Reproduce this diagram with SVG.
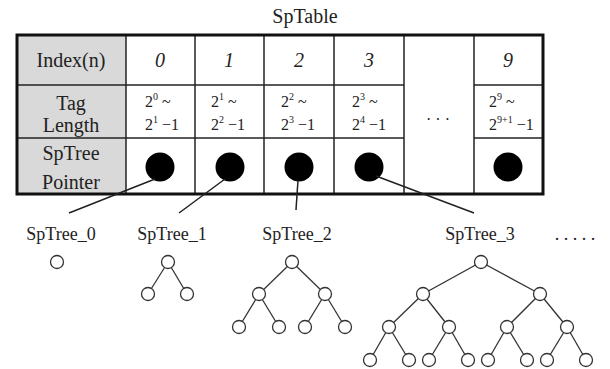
<svg xmlns="http://www.w3.org/2000/svg" width="610" height="369" viewBox="0 0 610 369" font-family="'Liberation Serif', 'Times New Roman', Times, serif">
<style>
text{font-family:'Liberation Serif','Times New Roman',Times,serif;fill:#222;}
.lbl{font-size:20px;text-anchor:middle;}
.idx{font-size:20px;font-style:italic;text-anchor:middle;}
.tag{font-size:16px;}
.sup{font-size:10px;}
.grid{stroke:#222;stroke-width:1.5;fill:none;}
.ptr{fill:#000;}
.conn{stroke:#222;stroke-width:1.5;fill:none;}
.edge{stroke:#333;stroke-width:1.3;}
.nd{fill:#fff;stroke:#333;stroke-width:1.3;}
</style>
<g id="title"><text class="lbl" x="305" y="23">SpTable</text></g>
<g id="table">
<rect x="17" y="35" width="109" height="159" fill="#d9d9d9"/>
<line class="grid" x1="17" y1="85" x2="404" y2="85"/>
<line class="grid" x1="17" y1="138" x2="404" y2="138"/>
<line class="grid" x1="474" y1="85" x2="543" y2="85"/>
<line class="grid" x1="474" y1="138" x2="543" y2="138"/>
<line class="grid" x1="126" y1="35" x2="126" y2="194"/>
<line class="grid" x1="195" y1="35" x2="195" y2="194"/>
<line class="grid" x1="264" y1="35" x2="264" y2="194"/>
<line class="grid" x1="334" y1="35" x2="334" y2="194"/>
<line class="grid" x1="404" y1="35" x2="404" y2="194"/>
<line class="grid" x1="474" y1="35" x2="474" y2="194"/>
<rect x="17" y="35" width="526" height="159" fill="none" stroke="#111" stroke-width="3"/>
<text class="lbl" x="71" y="67">Index(n)</text>
<text class="lbl" x="71" y="110">Tag</text>
<text class="lbl" x="71" y="132">Length</text>
<text class="lbl" x="71" y="160">SpTree</text>
<text class="lbl" x="71" y="189">Pointer</text>
<text class="idx" x="160" y="67">0</text>
<text class="idx" x="229" y="67">1</text>
<text class="idx" x="299" y="67">2</text>
<text class="idx" x="369" y="67">3</text>
<text class="idx" x="508" y="67">9</text>
<text class="tag" x="145" y="107">2<tspan class="sup" dy="-7">0</tspan><tspan dy="7"> ~</tspan></text>
<text class="tag" x="145" y="130">2<tspan class="sup" dy="-7">1</tspan><tspan dy="7"> −1</tspan></text>
<text class="tag" x="211" y="107">2<tspan class="sup" dy="-7">1</tspan><tspan dy="7"> ~</tspan></text>
<text class="tag" x="211" y="130">2<tspan class="sup" dy="-7">2</tspan><tspan dy="7"> −1</tspan></text>
<text class="tag" x="281" y="107">2<tspan class="sup" dy="-7">2</tspan><tspan dy="7"> ~</tspan></text>
<text class="tag" x="281" y="130">2<tspan class="sup" dy="-7">3</tspan><tspan dy="7"> −1</tspan></text>
<text class="tag" x="352" y="107">2<tspan class="sup" dy="-7">3</tspan><tspan dy="7"> ~</tspan></text>
<text class="tag" x="352" y="130">2<tspan class="sup" dy="-7">4</tspan><tspan dy="7"> −1</tspan></text>
<text class="tag" x="489" y="107">2<tspan class="sup" dy="-7">9</tspan><tspan dy="7"> ~</tspan></text>
<text class="tag" x="489" y="130">2<tspan class="sup" dy="-7">9+1</tspan><tspan dy="7"> −1</tspan></text>
<text x="438" y="125" font-size="16" text-anchor="middle">· · ·</text>
</g>
<g id="pointers">
<circle class="ptr" cx="160" cy="167" r="14.5"/>
<circle class="ptr" cx="230" cy="167" r="14.5"/>
<circle class="ptr" cx="299" cy="167" r="14.5"/>
<circle class="ptr" cx="369" cy="167" r="14.5"/>
<circle class="ptr" cx="508" cy="167" r="14.5"/>
</g>
<g id="connectors">
<line class="conn" x1="155" y1="179" x2="69" y2="213"/>
<line class="conn" x1="225" y1="179" x2="179" y2="213"/>
<line class="conn" x1="298" y1="180" x2="296" y2="210"/>
<line class="conn" x1="376" y1="176" x2="474" y2="213"/>
</g>
<g id="labels">
<text x="61" y="240" font-size="18" text-anchor="middle">SpTree_0</text>
<text x="172" y="240" font-size="18" text-anchor="middle">SpTree_1</text>
<text x="297" y="240" font-size="18" text-anchor="middle">SpTree_2</text>
<text x="480" y="240" font-size="18" text-anchor="middle">SpTree_3</text>
<text x="575" y="240" font-size="18" text-anchor="middle">. . . . .</text>
</g>
<g id="tree0">
<circle class="nd" cx="57" cy="262" r="6.5"/>
</g>
<g id="tree1">
<line class="edge" x1="168" y1="262" x2="148" y2="294"/>
<line class="edge" x1="168" y1="262" x2="187" y2="294"/>
<circle class="nd" cx="168" cy="262" r="6.5"/>
<circle class="nd" cx="148" cy="294" r="6.5"/>
<circle class="nd" cx="187" cy="294" r="6.5"/>
</g>
<g id="tree2">
<line class="edge" x1="292" y1="262" x2="259" y2="294"/>
<line class="edge" x1="292" y1="262" x2="325" y2="294"/>
<line class="edge" x1="259" y1="294" x2="239" y2="327"/>
<line class="edge" x1="259" y1="294" x2="279" y2="327"/>
<line class="edge" x1="325" y1="294" x2="305" y2="327"/>
<line class="edge" x1="325" y1="294" x2="345" y2="327"/>
<circle class="nd" cx="292" cy="262" r="6.5"/>
<circle class="nd" cx="259" cy="294" r="6.5"/>
<circle class="nd" cx="325" cy="294" r="6.5"/>
<circle class="nd" cx="239" cy="327" r="6.5"/>
<circle class="nd" cx="279" cy="327" r="6.5"/>
<circle class="nd" cx="305" cy="327" r="6.5"/>
<circle class="nd" cx="345" cy="327" r="6.5"/>
</g>
<g id="tree3">
<line class="edge" x1="481" y1="262" x2="423" y2="294"/>
<line class="edge" x1="481" y1="262" x2="540" y2="294"/>
<line class="edge" x1="423" y1="294" x2="389" y2="327"/>
<line class="edge" x1="423" y1="294" x2="449" y2="327"/>
<line class="edge" x1="540" y1="294" x2="507" y2="327"/>
<line class="edge" x1="540" y1="294" x2="567" y2="327"/>
<line class="edge" x1="389" y1="327" x2="370" y2="360"/>
<line class="edge" x1="389" y1="327" x2="409" y2="360"/>
<line class="edge" x1="449" y1="327" x2="429" y2="360"/>
<line class="edge" x1="449" y1="327" x2="468" y2="360"/>
<line class="edge" x1="507" y1="327" x2="488" y2="360"/>
<line class="edge" x1="507" y1="327" x2="527" y2="360"/>
<line class="edge" x1="567" y1="327" x2="547" y2="360"/>
<line class="edge" x1="567" y1="327" x2="586" y2="360"/>
<circle class="nd" cx="481" cy="262" r="6.5"/>
<circle class="nd" cx="423" cy="294" r="6.5"/>
<circle class="nd" cx="540" cy="294" r="6.5"/>
<circle class="nd" cx="389" cy="327" r="6.5"/>
<circle class="nd" cx="449" cy="327" r="6.5"/>
<circle class="nd" cx="507" cy="327" r="6.5"/>
<circle class="nd" cx="567" cy="327" r="6.5"/>
<circle class="nd" cx="370" cy="360" r="6.5"/>
<circle class="nd" cx="409" cy="360" r="6.5"/>
<circle class="nd" cx="429" cy="360" r="6.5"/>
<circle class="nd" cx="468" cy="360" r="6.5"/>
<circle class="nd" cx="488" cy="360" r="6.5"/>
<circle class="nd" cx="527" cy="360" r="6.5"/>
<circle class="nd" cx="547" cy="360" r="6.5"/>
<circle class="nd" cx="586" cy="360" r="6.5"/>
</g>
</svg>
